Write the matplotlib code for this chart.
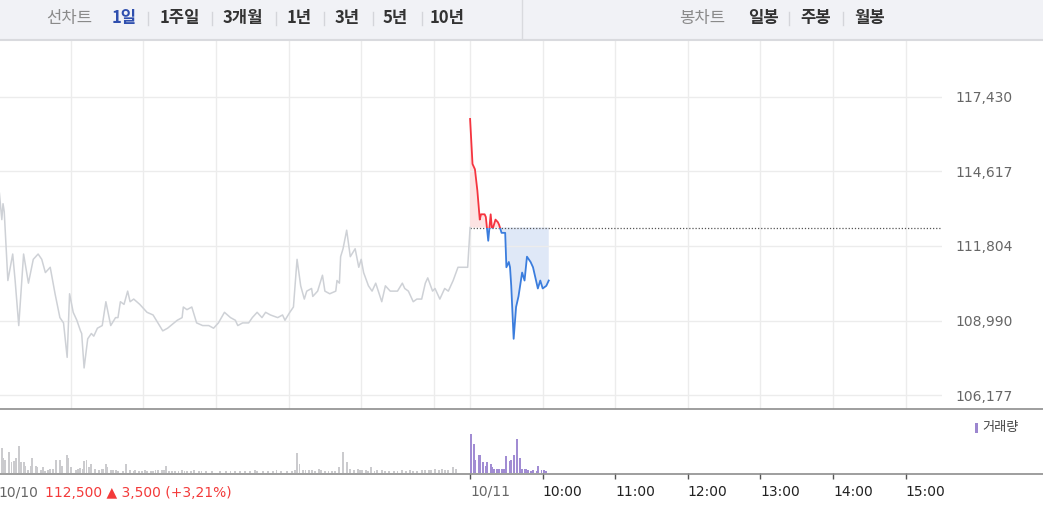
import matplotlib
matplotlib.use('Agg')
import matplotlib.pyplot as plt
from matplotlib.patches import Rectangle
from matplotlib.lines import Line2D
from matplotlib.ticker import FuncFormatter

plt.rcParams['font.family'] = ['DejaVu Sans']
KR = ['Noto Sans CJK KR', 'DejaVu Sans']

# ---------------- data ----------------
PREV_CLOSE = 112500
DAY_MINUTES = 390  # 09:00-15:30, today's minutes are offset by this

# previous day (10/10): minutes since 09:00, price
prev_min = [1, 3, 4, 5, 8, 12, 14, 17, 21, 25, 29, 33, 36, 39, 43, 47, 51, 54, 57, 59,
            62, 65, 68, 69, 71, 74, 77, 79, 82, 86, 89, 93, 97, 99, 101, 104, 107, 109, 112, 117,
            123, 128, 136, 140, 148, 152, 153, 156, 160, 164, 169, 174, 178, 182, 187, 192, 196, 198, 202, 207,
            210, 214, 218, 221, 225, 231, 235, 237, 241, 244, 247, 250, 253, 255, 259, 260, 264, 268, 270, 274,
            279, 280, 282, 283, 285, 288, 291, 295, 298, 300, 302, 306, 309, 312, 317, 320, 324, 330, 334, 336,
            339, 343, 346, 350, 353, 355, 359, 361, 365, 369, 372, 376, 380, 388, 390]
prev_price = [113800, 112800, 113400, 113100, 110500, 111500, 110500, 108800, 111500, 110400,
              111300, 111500, 111300, 110800, 111000, 110000, 109100, 108900, 107600, 110000,
              109300, 109000, 108600, 108500, 107200, 108300, 108500, 108400, 108700, 108800,
              109700, 108800, 109100, 109100, 109700, 109600, 110100, 109700, 109800, 109600,
              109300, 109200, 108600, 108700, 109000, 109100, 109500, 109400, 109500, 108900,
              108800, 108800, 108700, 108900, 109300, 109100, 109000, 108800, 108900, 108900,
              109100, 109300, 109100, 109300, 109200, 109100, 109200, 109000, 109300, 109500,
              111300, 110300, 109800, 110100, 110200, 109900, 110100, 110700, 110100, 110000,
              110100, 110500, 110400, 111400, 111700, 112400, 111400, 111700, 111000, 111300,
              110800, 110300, 110100, 110400, 109700, 110300, 110100, 110100, 110400, 110200,
              110100, 109700, 109800, 109800, 110400, 110600, 110100, 110200, 109800, 110200,
              110100, 110500, 111000, 111000, 112500]

# today (10/11): minutes since 09:00, price
today_min = [0, 2, 4, 6, 8, 9, 10, 12, 13, 15, 16, 17, 18, 19, 21, 23, 24, 26, 29, 30,
             32, 33, 34, 36, 38, 40, 43, 45, 47, 50, 52, 54, 56, 58, 60, 63, 65]
today_price = [116600, 114900, 114700, 113900, 112800, 113000, 113000, 113000, 112900, 112000,
               112500, 113000, 112500, 112500, 112800, 112700, 112600, 112300, 112300, 111000,
               111200, 111000, 110300, 108300, 109500, 109900, 110800, 110500, 111400, 111200,
               111000, 110600, 110200, 110500, 110200, 110300, 110500]

# volume (relative units)
prev_vol_min = [1, 3, 4, 6, 9, 11, 13, 15, 17, 19, 21, 22, 25, 27, 28, 31, 32, 35, 37, 39,
                41, 43, 45, 48, 51, 53, 57, 58, 60, 64, 66, 68, 70, 71, 73, 75, 77, 80, 83, 86,
                87, 89, 90, 93, 95, 97, 99, 103, 106, 109, 112, 113, 116, 119, 121, 123, 126, 128, 130, 132,
                135, 137, 139, 141, 144, 146, 149, 152, 154, 156, 159, 162, 166, 168, 172, 177, 183, 188, 192, 196,
                200, 204, 208, 212, 214, 219, 223, 227, 230, 234, 239, 243, 245, 247, 249, 252, 254, 257, 259, 262,
                265, 267, 270, 273, 276, 278, 282, 285, 288, 291, 294, 297, 299, 301, 304, 306, 308, 311, 313, 317,
                320, 323, 327, 330, 334, 337, 340, 343, 346, 350, 353, 356, 358, 361, 364, 367, 369, 372, 376, 378]
prev_vol = [54, 25, 15, 13, 21, 11, 12, 15, 27, 11, 11, 7, 3, 7, 15, 7, 6, 3, 6, 2,
            3, 4, 4, 13, 13, 7, 18, 15, 6, 3, 4, 5, 4, 12, 13, 6, 9, 4, 3, 4,
            4, 9, 6, 3, 3, 3, 2, 2, 9, 3, 2, 3, 2, 2, 3, 2, 2, 2, 3, 3,
            3, 3, 7, 2, 2, 2, 2, 3, 2, 2, 2, 3, 2, 2, 2, 2, 2, 2, 2, 2,
            2, 2, 2, 3, 2, 2, 2, 2, 3, 2, 2, 2, 3, 20, 9, 3, 3, 3, 3, 2,
            4, 3, 2, 2, 2, 2, 6, 21, 11, 4, 3, 4, 3, 3, 3, 2, 6, 2, 3, 3,
            2, 2, 2, 2, 3, 2, 3, 2, 2, 3, 3, 3, 3, 4, 3, 4, 3, 3, 6, 4]
today_vol_min = [1, 3, 4, 7, 8, 11, 13, 14, 17, 18, 20, 22, 24, 26, 28, 30, 33, 34, 36, 39,
                 41, 43, 45, 46, 48, 50, 52, 55, 56, 59, 61, 63]
today_vol = [39, 29, 13, 18, 18, 11, 7, 11, 9, 6, 4, 4, 4, 4, 4, 17, 12, 13, 18, 34,
             15, 4, 4, 4, 3, 2, 3, 2, 7, 3, 3, 2]

price_ticks = [106177, 108990, 111804, 114617, 117430]
prev_hours = [60, 120, 180, 240, 300, 360]
today_hours = [0, 60, 120, 180, 240, 300, 360]
time_labels = ["10/11", "10:00", "11:00", "12:00", "13:00", "14:00", "15:00"]

left_menu = ["선차트", "1일", "1주일", "3개월", "1년", "3년", "5년", "10년"]
right_menu = ["봉차트", "일봉", "주봉", "월봉"]

# ---------------- figure ----------------
W, H = 1043, 528
fig = plt.figure(figsize=(W / 100, H / 100), dpi=100)
fig.patch.set_facecolor('white')


def fx(px):
    return px / W


def fy(py):
    return 1 - py / H


XLIM = (1.5, 780)
YLIM = (105650, 119580)

ax = fig.add_axes([0, fy(409), fx(942), (409 - 40) / H])
axv = fig.add_axes([0, fy(473), fx(942), 64 / H])

GRID = '#ececec'
ax.set_xlim(*XLIM)
ax.set_ylim(*YLIM)
for s in ax.spines.values():
    s.set_visible(False)
ax.set_xticks([])
for h in prev_hours + [DAY_MINUTES + m for m in today_hours]:
    ax.axvline(h, color=GRID, lw=1, zorder=0)
ax.set_yticks(price_ticks)
ax.yaxis.tick_right()
ax.yaxis.set_major_formatter(FuncFormatter(lambda v, p: f"{v:,.0f}"))
ax.tick_params(axis='y', length=0, pad=9.5, labelsize=10, labelcolor='#666666')
ax.grid(axis='y', color=GRID, lw=1, zorder=0)

# previous day line
ax.plot(prev_min, prev_price, color='#ced1d6', lw=1.1, zorder=3)

# today
tx = [DAY_MINUTES + m for m in today_min]
ax.fill_between(tx, today_price, PREV_CLOSE,
                where=[p >= PREV_CLOSE for p in today_price], interpolate=True,
                color='#fde3e3', lw=0, zorder=1)
ax.fill_between(tx, today_price, PREV_CLOSE,
                where=[p <= PREV_CLOSE for p in today_price], interpolate=True,
                color='#dfe8f7', lw=0, zorder=1)

x0 = (DAY_MINUTES - XLIM[0]) / (XLIM[1] - XLIM[0])
ax.axhline(PREV_CLOSE, xmin=x0, xmax=1, color='#555555', lw=0.9,
           ls=(0, (1, 1.5)), zorder=2)

lr, = ax.plot(tx, today_price, color='#f5343f', lw=1.3, zorder=4)
lr.set_clip_path(Rectangle((DAY_MINUTES - 10, PREV_CLOSE), 500, 50000,
                           transform=ax.transData))
lb, = ax.plot(tx, today_price, color='#3b7ddd', lw=1.3, zorder=4)
lb.set_clip_path(Rectangle((DAY_MINUTES - 10, PREV_CLOSE - 50000), 500, 50000,
                           transform=ax.transData))

# volume
axv.set_xlim(*XLIM)
axv.set_ylim(0, 64)
for s in axv.spines.values():
    s.set_visible(False)
axv.patch.set_alpha(0)
axv.bar(prev_vol_min, prev_vol, width=1.6, color='#cbcbce', lw=0)
axv.bar([DAY_MINUTES + m for m in today_vol_min], today_vol, width=1.6,
        color='#a18cd3', lw=0)
axv.set_yticks([])
axv.set_xticks([DAY_MINUTES + m for m in today_hours])
axv.set_xticklabels(time_labels)
axv.tick_params(axis='x', length=4.5, width=1, color='#555555', pad=4,
                labelsize=10, labelcolor='#222222')
for lab in axv.get_xticklabels():
    lab.set_ha('left')
axv.get_xticklabels()[0].set_color('#666666')

# separators / frame lines
fig.add_artist(Rectangle((0, fy(39)), 1, 39 / H, transform=fig.transFigure,
                         color='#f1f2f6', lw=0, zorder=0))
fig.add_artist(Line2D([0, 1], [fy(39.5)] * 2, color='#d9dade', lw=1.5))
fig.add_artist(Line2D([fx(522)] * 2, [fy(0), fy(39)], color='#d9dade', lw=1))
fig.add_artist(Line2D([0, 1], [fy(409)] * 2, color='#8e8e8e', lw=1.2, zorder=5))
fig.add_artist(Line2D([0, 1], [fy(473.5)] * 2, color='#8e8e8e', lw=1.2, zorder=5))

# top menu
MENU_FS = 12
left_x = [46, 112, 160, 223, 287, 335, 383, 430]
left_sep = [148, 212, 276, 324, 373, 422]
right_x = [679, 748, 800, 854]
right_sep = [789, 843]
for i, (t, x) in enumerate(zip(left_menu, left_x)):
    if i == 0:
        fig.text(fx(x), fy(18), t, family=KR, fontsize=MENU_FS, color='#8a8a8a',
                 ha='left', va='center')
    elif i == 1:
        fig.text(fx(x), fy(18), t, family=KR, fontsize=MENU_FS, color='#2f4fae',
                 weight='bold', ha='left', va='center')
    else:
        fig.text(fx(x), fy(18), t, family=KR, fontsize=MENU_FS, color='#333333',
                 weight='bold', ha='left', va='center')
for i, (t, x) in enumerate(zip(right_menu, right_x)):
    if i == 0:
        fig.text(fx(x), fy(18), t, family=KR, fontsize=MENU_FS, color='#8a8a8a',
                 ha='left', va='center')
    else:
        fig.text(fx(x), fy(18), t, family=KR, fontsize=MENU_FS, color='#333333',
                 weight='bold', ha='left', va='center')
for x in left_sep + right_sep:
    fig.add_artist(Line2D([fx(x)] * 2, [fy(12), fy(25)], color='#d4d5da', lw=1))

# bottom info
fig.text(fx(-2), fy(493), "10/10", fontsize=10, color='#666666', ha='left', va='center')
fig.text(fx(45), fy(493), "112,500 ▲ 3,500 (+3,21%)", fontsize=10, color='#f33a3a',
         ha='left', va='center')

# volume legend
fig.add_artist(Rectangle((fx(975), fy(433)), fx(3), 10 / H, transform=fig.transFigure,
                         color='#9c86cf', lw=0))
fig.text(fx(982), fy(428), "거래량", family=KR, fontsize=9.5, color='#444444',
         ha='left', va='center')

fig.savefig('out.png', dpi=100)
